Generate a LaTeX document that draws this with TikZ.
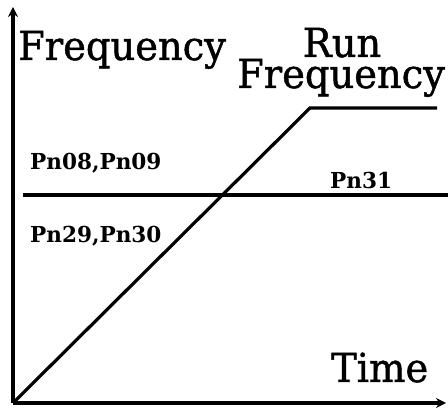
\documentclass[tikz,border=0pt]{standalone}
\usepackage{fontspec}
\setmainfont{DejaVu Serif}
\newfontfamily\slabfont[FakeStretch=0.96,FakeBold=1.2]{DejaVu Serif}
\newfontfamily\slabbold[FakeStretch=0.98]{DejaVu Serif Bold}
\usetikzlibrary{arrows.meta}
\tikzset{
  axis/.style={line width=3.4pt,-{Stealth[length=10pt,width=10pt]}},
  curve/.style={line width=3.2pt},
  biglabel/.style={anchor=base west,inner sep=0pt,font=\slabfont\fontsize{40}{44}\selectfont},
  pnlabel/.style={anchor=base west,inner sep=0pt,font=\slabbold\fontsize{22}{24}\selectfont}
}

\begin{document}
\begin{tikzpicture}[x=1pt,y=1pt]
  \useasboundingbox (0,0) rectangle (448,409);

  % axes
  \coordinate (origin) at (13,6);
  \coordinate (ytop) at (13,402);
  \coordinate (xend) at (446,6);
  \draw[axis] (origin) -- (ytop);
  \draw[axis] (origin) -- (xend);

  % ramp up to run frequency
  \coordinate (runtop) at (310,301);
  \coordinate (runend) at (437,301);
  \draw[curve] (origin) -- (runtop) -- (runend);

  % Pn31 level
  \coordinate (pnleft) at (23,214);
  \coordinate (pnright) at (448,214);
  \draw[curve] (pnleft) -- (pnright);

  \node (freq) [biglabel] at (18,349) {Frequency};
  \node (run) [biglabel,anchor=base] at (342,352) {Run};
  \node (runfreq) [biglabel] at (237,321) {Frequency};
  \node (time) [biglabel] at (331,27) {Time};

  \node (pnhigh) [pnlabel] at (30,239) {Pn08,Pn09};
  \node (pnmid) [pnlabel] at (330,220) {Pn31};
  \node (pnlow) [pnlabel] at (30,166) {Pn29,Pn30};
\end{tikzpicture}
\end{document}
